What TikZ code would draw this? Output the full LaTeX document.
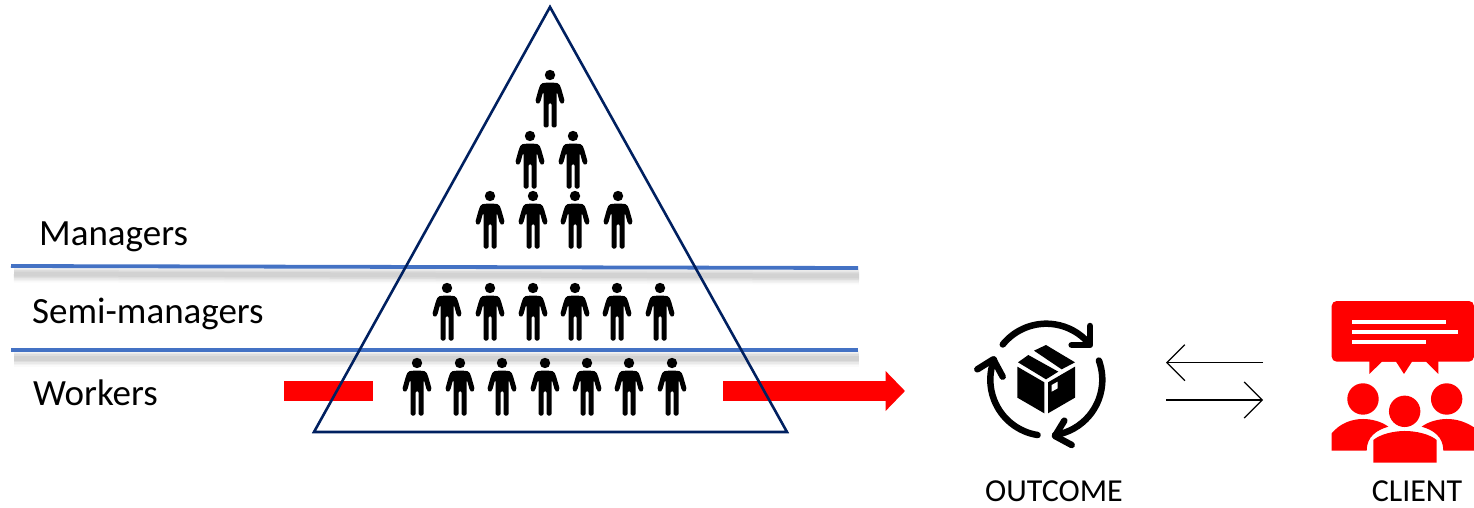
\documentclass[tikz,border=0pt]{standalone}
\usepackage{fontspec}
\setmainfont{Carlito}
\usetikzlibrary{arrows.meta}
\definecolor{pyramidblue}{HTML}{002060}
\definecolor{levelblue}{HTML}{4472C4}
\tikzstyle{pyramid} = [draw=pyramidblue, line width=2.6pt, line join=miter]
\tikzstyle{levelline} = [draw=levelblue, line width=3.8pt]
\tikzstyle{levellabel} = [anchor=base west, inner sep=0pt, font=\fontsize{37}{37}\selectfont]
\tikzstyle{iconlabel} = [anchor=base, inner sep=0pt, font=\fontsize{32}{32}\selectfont]
\tikzstyle{flowbar} = [draw=red, line width=20pt]
\tikzstyle{flowarrow} = [flowbar, -{Triangle[length=19.5pt,width=39pt]}]
\tikzstyle{exchange} = [draw=black, line width=1.2pt, -{Straight Barb[length=18pt,width=36pt]}]
\tikzstyle{cycle} = [draw=black, line width=6.5pt, line cap=round, line join=round]
\tikzset{person/.pic={
    \fill (0,0) circle (5.2pt);
    \fill[rounded corners=1.5pt] (-5,7.7) -- (-9,8.5) -- (-11,13) -- (-14.8,26.5) -- (-12,29.5) -- (-9.7,27) -- (-7,17)
        -- (-6.5,17) -- (-6.5,52.5) -- (-1.5,52.5) -- (-1.5,28) -- (1.5,28) -- (1.5,52.5) -- (6.5,52.5) -- (6.5,17)
        -- (7,17) -- (9.7,27) -- (12,29.5) -- (14.8,26.5) -- (11,13) -- (9,8.5) -- (5,7.7) -- cycle;
}}

\begin{document}
\begin{tikzpicture}[x=1pt,y=-1pt]
    \useasboundingbox (0,0) rectangle (1474,508);

    % level lines with their shadows
    \foreach \ya/\yb in {266/268,350/350}{
        \foreach \w/\o in {17/0.02,14/0.03,11/0.04,8/0.05,5/0.05}
            \draw[black, line width=\w pt, opacity=\o] (14,\ya+8) -- (859,\yb+8);
        \draw[levelline] (11,\ya) -- (858,\yb);
    }

    \coordinate (barstart) at (284,391);
    \coordinate (barend) at (373,391);
    \coordinate (arrowstart) at (723,391);
    \coordinate (arrowend) at (905,391);
    \draw[flowbar] (barstart) -- (barend);
    \draw[flowarrow] (arrowstart) -- (arrowend);

    \coordinate (apex) at (550,7);
    \coordinate (baseleft) at (314,432);
    \coordinate (baseright) at (787,432);
    \draw[pyramid] (apex) -- (baseright) -- (baseleft) -- cycle;

    % people, row by row
    \foreach \x/\y in {550/75,
                       530/136,573/136,
                       490/196,533/196,575/196,618/196,
                       447/288,490/288,533/288,575/288,617/288,660/288,
                       417/363,460/363,502/363,545/363,587/363,629/363,672/363}
        \pic at (\x,\y) {person};

    \node[levellabel] (managers) at (39,245.5) {Managers};
    \node[levellabel] (semimanagers) at (32,323.5) {Semi-managers};
    \node[levellabel] (workers) at (33,405.5) {Workers};

    % outcome icon
    \coordinate (cyclecentre) at (1046.3,379.7);
    \draw[cycle] ([shift={(141:56pt)}]cyclecentre) arc[start angle=141, end angle=41, radius=56pt];
    \draw[cycle] ([shift={(20:56pt)}]cyclecentre) arc[start angle=20, end angle=-81, radius=56pt];
    \draw[cycle] ([shift={(-99:56pt)}]cyclecentre) arc[start angle=-99, end angle=-201, radius=56pt];
    \begin{scope}[shift={(960,300)},x=0.3333pt,y=-0.3333pt]
        \draw[cycle] (390,78) -- (390,135) -- (335,135);
        \draw[cycle] (313,362) -- (285,408) -- (335,435);
        \draw[cycle] (52,208) -- (100,178) -- (128,230);
        \fill (222,152) -- (258,135) -- (345,187) -- (305,208) -- cycle;
        \fill (205,165) -- (295,215) -- (258,238) -- (174,187) -- cycle;
        \fill (172,200) -- (253,247) -- (253,340) -- (172,293) -- cycle;
        \fill (264,247) -- (345,200) -- (345,293) -- (264,340) -- cycle;
        \fill[white] (275,255) -- (293,245) -- (293,265) -- (275,275) -- cycle;
    \end{scope}

    \coordinate (exchangeleft1) at (1263,362.7);
    \coordinate (exchangeright1) at (1166,362.7);
    \coordinate (exchangeleft2) at (1166,400);
    \coordinate (exchangeright2) at (1263,400);
    \draw[exchange] (exchangeleft1) -- (exchangeright1);
    \draw[exchange] (exchangeleft2) -- (exchangeright2);

    % client icon
    \begin{scope}[shift={(1320,295)},x=0.3333pt,y=-0.3333pt]
        \fill[red, rounded corners=5pt] (35,18) rectangle (462,200);
        \fill[red] (148,195) -- (148,237) -- (186,200) -- (228,200) -- (252,237) -- (276,200)
            -- (318,200) -- (355,237) -- (355,195) -- cycle;
        \fill[white] (96,75) rectangle (378,86);
        \fill[white] (96,104) rectangle (414,116);
        \fill[white] (96,135) rectangle (318,146);
        \foreach \x/\y in {129/312,254/349,380/312}
            \fill[red] (\x,\y) circle (15.7pt);
        \fill[red] (35,467) -- (35,415) .. controls (60,385) and (95,372) .. (129,372)
            .. controls (155,372) and (185,380) .. (205,395)
            .. controls (170,405) and (140,425) .. (140,467) -- cycle;
        \fill[red] (462,467) -- (462,397) .. controls (435,380) and (410,372) .. (380,372)
            .. controls (355,372) and (325,380) .. (305,395)
            .. controls (340,405) and (370,425) .. (370,467) -- cycle;
        \fill[red] (160,503) -- (160,435) .. controls (180,418) and (220,408) .. (254,408)
            .. controls (290,408) and (330,418) .. (350,435) -- (350,503) -- cycle;
    \end{scope}

    \node[iconlabel] (outcome) at (1054,501.5) {OUTCOME};
    \node[iconlabel] (client) at (1417,501.5) {CLIENT};
\end{tikzpicture}
\end{document}
